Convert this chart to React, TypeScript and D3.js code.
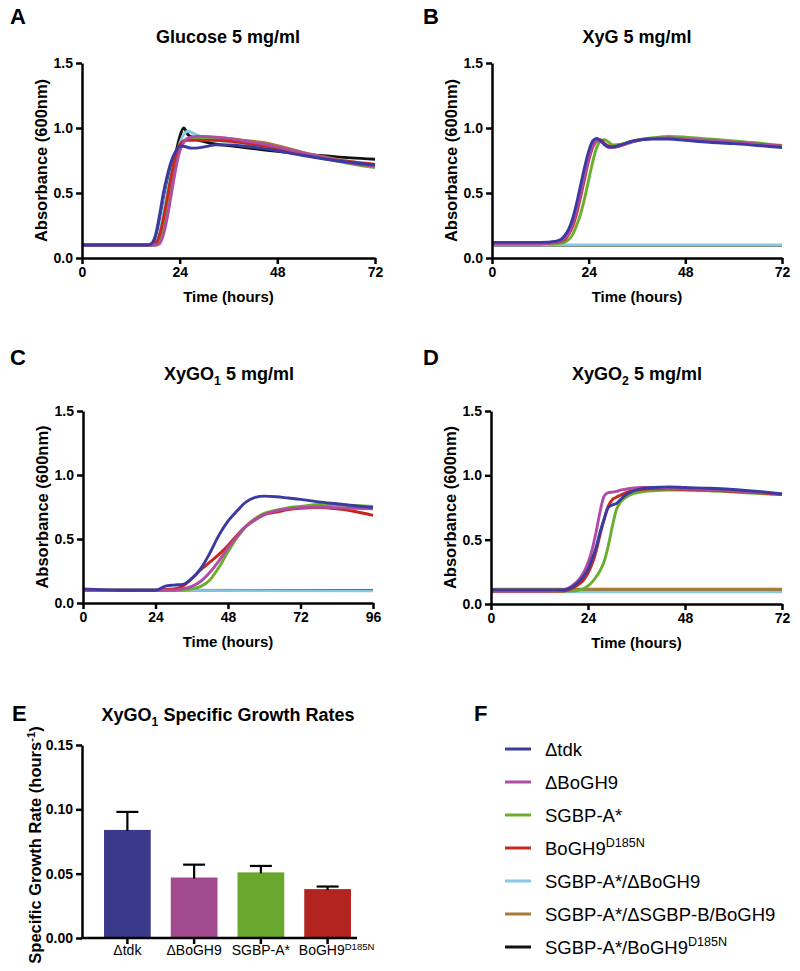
import React, { useEffect, useRef } from "react";
import * as d3 from "d3";

const FONT = "'Liberation Sans', Arial, Helvetica, sans-serif";

// strain keys, colours and legend labels
const strainKeys = ["tdk", "boGH9", "sgbpA", "d185n", "sgbpABoGH9", "sgbpASgbpB", "sgbpAD185n"];
const strainColors = ["#3a3aa0", "#b04ca6", "#6aae2e", "#c62820", "#86c8e6", "#a87a34", "#111111"];
const legendLabels = ["Δtdk", "ΔBoGH9", "SGBP-A*", "BoGH9", "SGBP-A*/ΔBoGH9", "SGBP-A*/ΔSGBP-B/BoGH9", "SGBP-A*/BoGH9"];
const legendSups = ["", "", "", "D185N", "", "", "D185N"];

// A: glucose
const glucoseTime = [0, 12, 16, 17, 18, 19, 20, 21, 22, 23, 24, 25, 26, 27, 28, 30, 33, 36, 40, 44, 48, 54, 60, 66, 72];
const glucoseTdk = [0.1, 0.1, 0.1, 0.11, 0.17, 0.32, 0.5, 0.64, 0.75, 0.82, 0.86, 0.86, 0.85, 0.845, 0.845, 0.855, 0.87, 0.87, 0.86, 0.845, 0.825, 0.79, 0.76, 0.735, 0.715];
const glucoseBoGH9 = [0.1, 0.1, 0.1, 0.1, 0.1, 0.11, 0.18, 0.32, 0.5, 0.68, 0.82, 0.89, 0.92, 0.93, 0.935, 0.935, 0.93, 0.92, 0.9, 0.88, 0.855, 0.81, 0.77, 0.73, 0.705];
const glucoseSgbpA = [0.1, 0.1, 0.1, 0.1, 0.1, 0.13, 0.24, 0.4, 0.58, 0.74, 0.85, 0.9, 0.91, 0.915, 0.915, 0.915, 0.91, 0.905, 0.89, 0.87, 0.845, 0.8, 0.76, 0.725, 0.695];
const glucoseD185n = [0.1, 0.1, 0.1, 0.1, 0.11, 0.17, 0.3, 0.47, 0.64, 0.78, 0.87, 0.9, 0.905, 0.905, 0.905, 0.905, 0.905, 0.9, 0.885, 0.865, 0.845, 0.8, 0.765, 0.74, 0.72];
const glucoseSgbpABoGH9 = [0.1, 0.1, 0.1, 0.1, 0.11, 0.2, 0.36, 0.52, 0.66, 0.78, 0.88, 0.95, 0.975, 0.965, 0.95, 0.925, 0.905, 0.895, 0.88, 0.865, 0.845, 0.8, 0.765, 0.74, 0.72];
const glucoseSgbpASgbpB = [0.1, 0.1, 0.1, 0.1, 0.1, 0.12, 0.22, 0.38, 0.56, 0.72, 0.84, 0.9, 0.92, 0.93, 0.93, 0.93, 0.925, 0.92, 0.905, 0.89, 0.865, 0.815, 0.775, 0.74, 0.715];
const glucoseSgbpAD185n = [0.1, 0.1, 0.1, 0.1, 0.12, 0.22, 0.38, 0.54, 0.68, 0.8, 0.93, 1.0, 0.95, 0.93, 0.915, 0.895, 0.875, 0.865, 0.85, 0.835, 0.82, 0.8, 0.785, 0.77, 0.76];

// B: XyG
const xygTime = [0, 12, 16, 18, 19, 20, 21, 22, 23, 24, 25, 26, 27, 28, 29, 30, 32, 35, 40, 44, 48, 54, 60, 66, 72];
const xygTdk = [0.12, 0.12, 0.13, 0.17, 0.22, 0.3, 0.42, 0.56, 0.7, 0.82, 0.9, 0.92, 0.9, 0.87, 0.855, 0.855, 0.87, 0.9, 0.915, 0.915, 0.905, 0.89, 0.88, 0.865, 0.85];
const xygBoGH9 = [0.11, 0.11, 0.12, 0.15, 0.19, 0.26, 0.37, 0.5, 0.64, 0.77, 0.86, 0.9, 0.9, 0.87, 0.85, 0.85, 0.865, 0.895, 0.92, 0.925, 0.915, 0.905, 0.89, 0.875, 0.86];
const xygSgbpA = [0.11, 0.11, 0.11, 0.12, 0.14, 0.18, 0.25, 0.34, 0.46, 0.6, 0.74, 0.85, 0.9, 0.91, 0.89, 0.87, 0.875, 0.9, 0.925, 0.935, 0.93, 0.915, 0.9, 0.885, 0.865];
const xygD185n = [0.11, 0.11, 0.12, 0.14, 0.18, 0.24, 0.34, 0.47, 0.61, 0.75, 0.85, 0.9, 0.91, 0.88, 0.86, 0.855, 0.865, 0.895, 0.92, 0.92, 0.91, 0.9, 0.89, 0.875, 0.86];
const xygFlatTime = [0, 72];
const xygSgbpABoGH9 = [0.1, 0.1];
const xygSgbpASgbpB = [0.097, 0.097];
const xygSgbpAD185n = [0.095, 0.095];

// C: XyGO1
const xygo1Time = [0, 12, 24, 27, 30, 33, 36, 39, 42, 45, 48, 51, 54, 57, 60, 64, 68, 72, 78, 84, 90, 96];
const xygo1Tdk = [0.11, 0.1, 0.1, 0.13, 0.14, 0.145, 0.19, 0.27, 0.39, 0.53, 0.64, 0.72, 0.79, 0.825, 0.835, 0.83, 0.82, 0.81, 0.79, 0.775, 0.76, 0.745];
const xygo1BoGH9 = [0.1, 0.1, 0.1, 0.1, 0.1, 0.11, 0.13, 0.17, 0.24, 0.33, 0.43, 0.52, 0.6, 0.65, 0.69, 0.72, 0.735, 0.745, 0.75, 0.745, 0.74, 0.735];
const xygo1SgbpA = [0.1, 0.1, 0.1, 0.1, 0.1, 0.1, 0.11, 0.13, 0.18, 0.28, 0.4, 0.51, 0.6, 0.66, 0.7, 0.725, 0.745, 0.755, 0.77, 0.765, 0.76, 0.755];
const xygo1D185n = [0.1, 0.1, 0.1, 0.105, 0.11, 0.13, 0.19, 0.26, 0.32, 0.38, 0.45, 0.53, 0.6, 0.65, 0.69, 0.71, 0.73, 0.74, 0.745, 0.735, 0.715, 0.685];
const xygo1FlatTime = [0, 96];
const xygo1SgbpABoGH9 = [0.1, 0.095];
const xygo1SgbpAD185n = [0.1, 0.098];

// D: XyGO2
const xygo2Time = [0, 12, 18, 20, 22, 23, 24, 25, 26, 27, 28, 29, 30, 31, 32, 33, 35, 37, 40, 44, 48, 54, 60, 66, 72];
const xygo2Tdk = [0.11, 0.11, 0.11, 0.13, 0.18, 0.22, 0.27, 0.35, 0.44, 0.56, 0.66, 0.75, 0.77, 0.78, 0.81, 0.84, 0.875, 0.895, 0.905, 0.91, 0.905, 0.9, 0.89, 0.875, 0.855];
const xygo2BoGH9 = [0.1, 0.1, 0.11, 0.14, 0.2, 0.25, 0.32, 0.42, 0.56, 0.72, 0.84, 0.865, 0.87, 0.875, 0.885, 0.89, 0.9, 0.905, 0.905, 0.9, 0.895, 0.89, 0.88, 0.87, 0.855];
const xygo2SgbpA = [0.1, 0.1, 0.1, 0.1, 0.11, 0.12, 0.14, 0.17, 0.21, 0.26, 0.33, 0.45, 0.6, 0.73, 0.79, 0.82, 0.855, 0.87, 0.88, 0.885, 0.885, 0.88, 0.87, 0.86, 0.85];
const xygo2D185n = [0.1, 0.1, 0.1, 0.12, 0.16, 0.19, 0.24, 0.31, 0.41, 0.54, 0.66, 0.76, 0.81, 0.83, 0.845, 0.86, 0.88, 0.89, 0.895, 0.895, 0.89, 0.885, 0.875, 0.865, 0.85];
const xygo2FlatTime = [0, 72];
const xygo2SgbpABoGH9 = [0.095, 0.095];
const xygo2SgbpASgbpB = [0.115, 0.115];
const xygo2SgbpAD185n = [0.1, 0.1];

// E: growth rates
const barLabels = ["Δtdk", "ΔBoGH9", "SGBP-A*", "BoGH9"];
const barSups = ["", "", "", "D185N"];
const barMeans = [0.084, 0.047, 0.051, 0.038];
const barErrors = [0.014, 0.01, 0.005, 0.002];
const barColors = ["#3b3a8a", "#a14b8e", "#6aa72e", "#b2241f"];

type Part = { t: string; s?: "sup" | "sub" };

function richText(sel: any, parts: Part[], size: number) {
	let shift = 0;
	parts.forEach((p) => {
		const target = p.s === "sup" ? -size * 0.38 : p.s === "sub" ? size * 0.3 : 0;
		sel.append("tspan")
			.attr("dy", target - shift)
			.attr("font-size", p.s ? size * 0.68 : size)
			.text(p.t);
		shift = target;
	});
}

function styleAxis(sel: any) {
	sel.attr("font-family", null).attr("font-size", null);
	sel.select(".domain").attr("stroke", "#000").attr("stroke-width", 2.5);
	sel.selectAll(".tick line").attr("stroke", "#000").attr("stroke-width", 2.5);
	sel.selectAll(".tick text")
		.attr("font-family", FONT)
		.attr("font-size", 14)
		.attr("font-weight", "bold")
		.attr("fill", "#000");
}

const App: React.FC = () => {
	const svgRef = useRef<SVGSVGElement>(null);

	useEffect(() => {
		if (!svgRef.current) return;
		const svg = d3.select(svgRef.current);
		svg.selectAll("*").remove();

		const panels = [
			{
				letter: "A", lx: 10, ly: 24, title: [{ t: "Glucose 5 mg/ml" }] as Part[], tx: 228, ty: 43,
				left: 82, right: 375, top: 63, bottom: 258, xMax: 72,
				series: [
					[glucoseTime, glucoseSgbpAD185n, 6],
					[glucoseTime, glucoseSgbpASgbpB, 5],
					[glucoseTime, glucoseSgbpABoGH9, 4],
					[glucoseTime, glucoseSgbpA, 2],
					[glucoseTime, glucoseD185n, 3],
					[glucoseTime, glucoseBoGH9, 1],
					[glucoseTime, glucoseTdk, 0],
				],
			},
			{
				letter: "B", lx: 423, ly: 24, title: [{ t: "XyG 5 mg/ml" }] as Part[], tx: 637, ty: 43,
				left: 492, right: 782, top: 63, bottom: 258, xMax: 72,
				series: [
					[xygFlatTime, xygSgbpAD185n, 6],
					[xygFlatTime, xygSgbpASgbpB, 5],
					[xygFlatTime, xygSgbpABoGH9, 4],
					[xygTime, xygSgbpA, 2],
					[xygTime, xygD185n, 3],
					[xygTime, xygBoGH9, 1],
					[xygTime, xygTdk, 0],
				],
			},
			{
				letter: "C", lx: 10, ly: 365, title: [{ t: "XyGO" }, { t: "1", s: "sub" }, { t: " 5 mg/ml" }] as Part[], tx: 229, ty: 380,
				left: 83, right: 373, top: 411, bottom: 603, xMax: 96,
				series: [
					[xygo1FlatTime, xygo1SgbpAD185n, 6],
					[xygo1FlatTime, xygo1SgbpABoGH9, 4],
					[xygo1Time, xygo1SgbpA, 2],
					[xygo1Time, xygo1D185n, 3],
					[xygo1Time, xygo1BoGH9, 1],
					[xygo1Time, xygo1Tdk, 0],
				],
			},
			{
				letter: "D", lx: 423, ly: 365, title: [{ t: "XyGO" }, { t: "2", s: "sub" }, { t: " 5 mg/ml" }] as Part[], tx: 637, ty: 380,
				left: 491, right: 782, top: 411, bottom: 604, xMax: 72,
				series: [
					[xygo2FlatTime, xygo2SgbpAD185n, 6],
					[xygo2FlatTime, xygo2SgbpABoGH9, 4],
					[xygo2FlatTime, xygo2SgbpASgbpB, 5],
					[xygo2Time, xygo2SgbpA, 2],
					[xygo2Time, xygo2D185n, 3],
					[xygo2Time, xygo2BoGH9, 1],
					[xygo2Time, xygo2Tdk, 0],
				],
			},
		];

		panels.forEach((p) => {
			const x = d3.scaleLinear().domain([0, p.xMax]).range([p.left, p.right]);
			const y = d3.scaleLinear().domain([0, 1.5]).range([p.bottom, p.top]);
			const g = svg.append("g");

			const line = d3
				.line<[number, number]>()
				.x((d) => x(d[0]))
				.y((d) => y(d[1]))
				.curve(d3.curveMonotoneX);

			p.series.forEach(([time, values, ci]: any) => {
				const pts = (time as number[]).map((t, i) => [t, values[i]] as [number, number]);
				g.append("path")
					.datum(pts)
					.attr("d", line)
					.attr("fill", "none")
					.attr("stroke", strainColors[ci])
					.attr("stroke-width", 2.9)
					.attr("stroke-linejoin", "round");
			});

			const xTicks = d3.range(0, p.xMax + 1, 24);
			g.append("g")
				.attr("transform", `translate(0,${p.bottom})`)
				.call(d3.axisBottom(x).tickValues(xTicks).tickSize(6).tickSizeOuter(0).tickFormat(d3.format("d")))
				.call(styleAxis);

			g.append("g")
				.attr("transform", `translate(${p.left},0)`)
				.call(d3.axisLeft(y).tickValues([0, 0.5, 1, 1.5]).tickSize(6).tickSizeOuter(0).tickFormat(d3.format(".1f")))
				.call(styleAxis);

			// panel letter
			svg.append("text").attr("x", p.lx).attr("y", p.ly)
				.attr("font-family", FONT).attr("font-size", 22).attr("font-weight", "bold").text(p.letter);

			// title
			const t = svg.append("text").attr("x", p.tx).attr("y", p.ty).attr("text-anchor", "middle")
				.attr("font-family", FONT).attr("font-weight", "bold");
			richText(t, p.title, 18);

			// x label
			svg.append("text").attr("x", (p.left + p.right) / 2).attr("y", p.bottom + 44)
				.attr("text-anchor", "middle").attr("font-family", FONT).attr("font-size", 15)
				.attr("font-weight", "bold").text("Time (hours)");

			// y label
			svg.append("text")
				.attr("transform", `translate(${p.left - 35},${(p.top + p.bottom) / 2}) rotate(-90)`)
				.attr("text-anchor", "middle").attr("font-family", FONT).attr("font-size", 16.5)
				.attr("font-weight", "bold").text("Absorbance (600nm)");
		});

		// E: bar chart
		const eLeft = 82;
		const eBottom = 938;
		const xb = d3.scaleBand().domain(barLabels).range([eLeft, 373]).paddingInner(0.3).paddingOuter(0.33);
		const ye = d3.scaleLinear().domain([0, 0.15]).range([eBottom, 745]);
		const ge = svg.append("g");

		ge.selectAll("rect.bar")
			.data(barLabels)
			.join("rect")
			.attr("class", "bar")
			.attr("x", (d) => xb(d)!)
			.attr("y", (d, i) => ye(barMeans[i]))
			.attr("width", xb.bandwidth())
			.attr("height", (d, i) => eBottom - ye(barMeans[i]))
			.attr("fill", (d, i) => barColors[i]);

		barLabels.forEach((d, i) => {
			const cx = xb(d)! + xb.bandwidth() / 2;
			const top = ye(barMeans[i] + barErrors[i]);
			ge.append("line").attr("x1", cx).attr("x2", cx).attr("y1", ye(barMeans[i]) + 1).attr("y2", top)
				.attr("stroke", "#000").attr("stroke-width", 2.2);
			ge.append("line").attr("x1", cx - 11).attr("x2", cx + 11).attr("y1", top).attr("y2", top)
				.attr("stroke", "#000").attr("stroke-width", 2.2);
			ge.append("line").attr("x1", cx).attr("x2", cx).attr("y1", eBottom).attr("y2", eBottom + 6)
				.attr("stroke", "#000").attr("stroke-width", 2.5);
			const lt = ge.append("text")
				.attr("x", barSups[i] ? cx + 9 : cx)
				.attr("y", eBottom + 17)
				.attr("text-anchor", "middle")
				.attr("font-family", FONT);
			const parts: Part[] = [{ t: d }];
			if (barSups[i]) parts.push({ t: barSups[i], s: "sup" });
			richText(lt, parts, 14);
		});

		const lastBand = barLabels[barLabels.length - 1];
		ge.append("line").attr("x1", eLeft).attr("x2", xb(lastBand)! + xb.bandwidth() + 6)
			.attr("y1", eBottom).attr("y2", eBottom).attr("stroke", "#000").attr("stroke-width", 2.5);

		ge.append("g")
			.attr("transform", `translate(${eLeft},0)`)
			.call(d3.axisLeft(ye).tickValues([0, 0.05, 0.1, 0.15]).tickSize(6).tickSizeOuter(0).tickFormat(d3.format(".2f")))
			.call(styleAxis);

		svg.append("text").attr("x", 12).attr("y", 721)
			.attr("font-family", FONT).attr("font-size", 22).attr("font-weight", "bold").text("E");
		const et = svg.append("text").attr("x", 228).attr("y", 721).attr("text-anchor", "middle")
			.attr("font-family", FONT).attr("font-weight", "bold");
		richText(et, [{ t: "XyGO" }, { t: "1", s: "sub" }, { t: " Specific Growth Rates" }], 18);

		const eyl = svg.append("text")
			.attr("transform", `translate(41,845) rotate(-90)`)
			.attr("text-anchor", "middle").attr("font-family", FONT).attr("font-weight", "bold");
		richText(eyl, [{ t: "Specific Growth Rate  (hours" }, { t: "-1", s: "sup" }, { t: ")" }], 16.5);

		// F: legend
		svg.append("text").attr("x", 474).attr("y", 721)
			.attr("font-family", FONT).attr("font-size", 22).attr("font-weight", "bold").text("F");

		const legendY = d3.scalePoint().domain(strainKeys).range([749, 947]);
		strainKeys.forEach((k, i) => {
			const yy = legendY(k)!;
			svg.append("line").attr("x1", 505).attr("x2", 531).attr("y1", yy).attr("y2", yy)
				.attr("stroke", strainColors[i]).attr("stroke-width", 3);
			const lt = svg.append("text").attr("x", 545).attr("y", yy + 6.5).attr("font-family", FONT);
			const parts: Part[] = [{ t: legendLabels[i] }];
			if (legendSups[i]) parts.push({ t: legendSups[i], s: "sup" });
			richText(lt, parts, 18.5);
		});
	}, []);

	return (
		<svg
			ref={svgRef}
			width={800}
			height={971}
			style={{ position: "absolute", left: 0, top: 0, background: "#fff" }}
		/>
	);
};

export default App;
